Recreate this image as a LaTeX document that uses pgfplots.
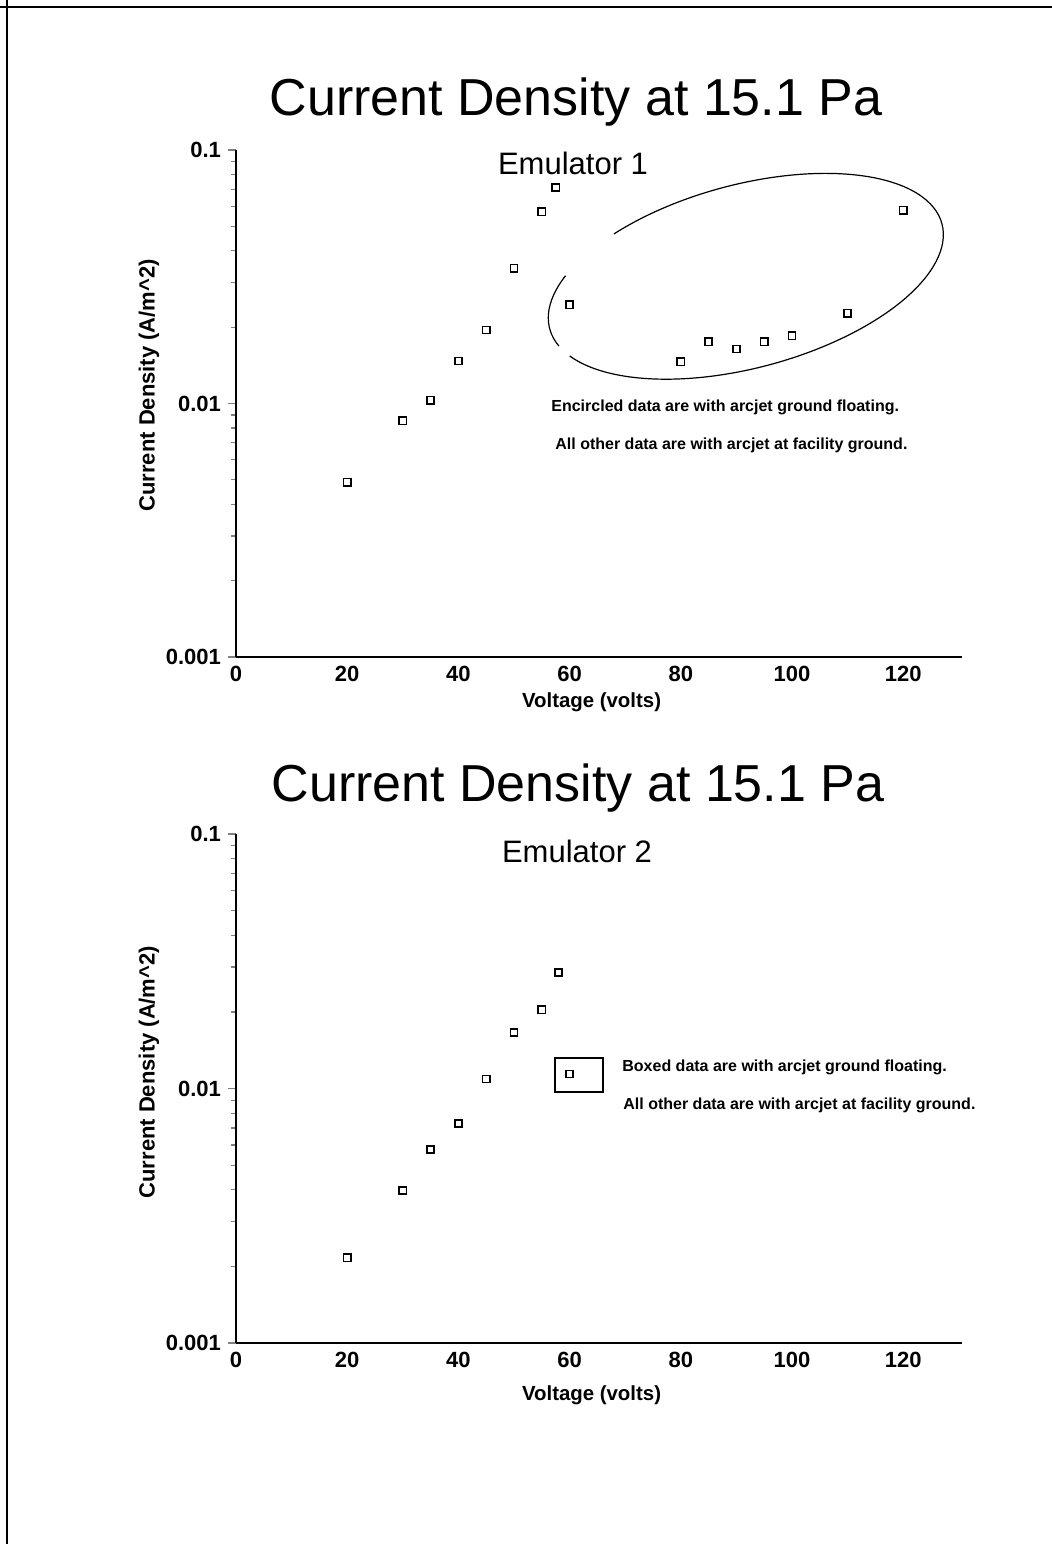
\documentclass[border=0pt]{standalone}
\usepackage{pgfplots}
\pgfplotsset{compat=1.18}
\usepackage{fontspec}
\setmainfont{Liberation Sans}

\begin{document}
\begin{tikzpicture}
\path[use as bounding box] (0,0) rectangle (526pt,772pt);

% page frame (top and left edges)
\draw[line width=1pt] (0,768.5pt) -- (526pt,768.5pt);
\draw[line width=1pt] (3.5pt,772pt) -- (3.5pt,0);

% ---------------- Emulator 1 ----------------
\begin{axis}[
    scale only axis, width=362.8pt, height=253.5pt,
    at={(118pt,443.5pt)}, anchor=south west,
    xmin=0, xmax=130.5,
    ymode=log, ymin=0.001, ymax=0.1,
    axis lines=left,
    axis line style={line width=0.7pt,-},
    xtick={0,20,40,60,80,100,120},
    ytick={0.001,0.01,0.1},
    yticklabels={0.001,0.01,0.1},
    minor ytick={0.002,0.003,0.004,0.005,0.006,0.007,0.008,0.009,
                 0.02,0.03,0.04,0.05,0.06,0.07,0.08,0.09},
    tick align=outside,
    xtick style={draw=none},
    ytick style={line width=0.6pt},
    major tick length=4pt, minor tick length=2.5pt,
    ticklabel style={font=\fontsize{11}{13}\selectfont\bfseries},
    xticklabel style={yshift=3pt},
    /pgf/number format/assume math mode=true,
    ylabel style={font=\fontsize{11}{13}\selectfont\bfseries,
                  at={(axis description cs:-0.12,0.536)},anchor=center},
    xlabel style={font=\fontsize{10.2}{12}\selectfont\bfseries,
                  at={(axis description cs:0.49,-0.089)},anchor=center},
    xlabel={Voltage (volts)},
    ylabel={Current Density (A/m\textasciicircum2)},
    clip=false,
  ]
  \addplot[only marks, mark=square, mark size=1.8pt,
           mark options={line width=0.8pt, draw=black}] coordinates {
    (20,0.00489) (30,0.00855) (35,0.0103) (40,0.0147) (45,0.0195)
    (50,0.0342) (55,0.0570) (57.5,0.0711) (60,0.0245) (80,0.0146)
    (85,0.0175) (90,0.0164) (95,0.0175) (100,0.0185) (110,0.0227)
    (120,0.0579)
  };
\end{axis}

% ---------------- Emulator 2 ----------------
\begin{axis}[
    scale only axis, width=362.8pt, height=254.5pt,
    at={(118pt,100.5pt)}, anchor=south west,
    xmin=0, xmax=130.5,
    ymode=log, ymin=0.001, ymax=0.1,
    axis lines=left,
    axis line style={line width=0.7pt,-},
    xtick={0,20,40,60,80,100,120},
    ytick={0.001,0.01,0.1},
    yticklabels={0.001,0.01,0.1},
    minor ytick={0.002,0.003,0.004,0.005,0.006,0.007,0.008,0.009,
                 0.02,0.03,0.04,0.05,0.06,0.07,0.08,0.09},
    tick align=outside,
    xtick style={draw=none},
    ytick style={line width=0.6pt},
    major tick length=4pt, minor tick length=2.5pt,
    ticklabel style={font=\fontsize{11}{13}\selectfont\bfseries},
    xticklabel style={yshift=3pt},
    /pgf/number format/assume math mode=true,
    ylabel style={font=\fontsize{11}{13}\selectfont\bfseries,
                  at={(axis description cs:-0.12,0.532)},anchor=center},
    xlabel style={font=\fontsize{10.2}{12}\selectfont\bfseries,
                  at={(axis description cs:0.49,-0.102)},anchor=center},
    xlabel={Voltage (volts)},
    ylabel={Current Density (A/m\textasciicircum2)},
    clip=false,
  ]
  \addplot[only marks, mark=square, mark size=1.8pt,
           mark options={line width=0.8pt, draw=black}] coordinates {
    (20,0.00216) (30,0.00397) (35,0.00576) (40,0.00729) (45,0.0109)
    (50,0.0166) (55,0.0204) (58,0.0286) (60,0.0114)
  };
\end{axis}

% ellipse round the floating-ground points (upper chart)
\begin{scope}[shift={(372.9pt,633.85pt)}, rotate=15, line width=0.6pt]
  \draw (149:101.5pt and 45.8pt) arc[start angle=149, end angle=192, x radius=101.5pt, y radius=45.8pt];
  \draw (200:101.5pt and 45.8pt) arc[start angle=200, end angle=485, x radius=101.5pt, y radius=45.8pt];
\end{scope}

% texts and the box, placed in page pixel units (y downwards)
\begin{scope}[x=0.5pt, y=-0.5pt, yshift=772pt]
  \node[anchor=base, inner sep=0, font=\fontsize{26}{30}\selectfont] at (576,116) {Current Density at 15.1 Pa};
  \node[anchor=base, inner sep=0, font=\fontsize{15.5}{18}\selectfont] at (573,175) {Emulator 1};
  \node[anchor=west, inner sep=0, font=\fontsize{8}{10}\selectfont\bfseries] at (551,407) {Encircled data are with arcjet ground floating.};
  \node[anchor=west, inner sep=0, font=\fontsize{8}{10}\selectfont\bfseries] at (555,445) {All other data are with arcjet at facility ground.};

  \node[anchor=base, inner sep=0, font=\fontsize{26}{30}\selectfont] at (578,802) {Current Density at 15.1 Pa};
  \node[anchor=base, inner sep=0, font=\fontsize{15.5}{18}\selectfont] at (577,863) {Emulator 2};
  \draw[line width=0.6pt] (555,1058) rectangle (603,1092);
  \node[anchor=west, inner sep=0, font=\fontsize{8}{10}\selectfont\bfseries] at (622,1067) {Boxed data are with arcjet ground floating.};
  \node[anchor=west, inner sep=0, font=\fontsize{8}{10}\selectfont\bfseries] at (623,1105) {All other data are with arcjet at facility ground.};
\end{scope}
\end{tikzpicture}
\end{document}
